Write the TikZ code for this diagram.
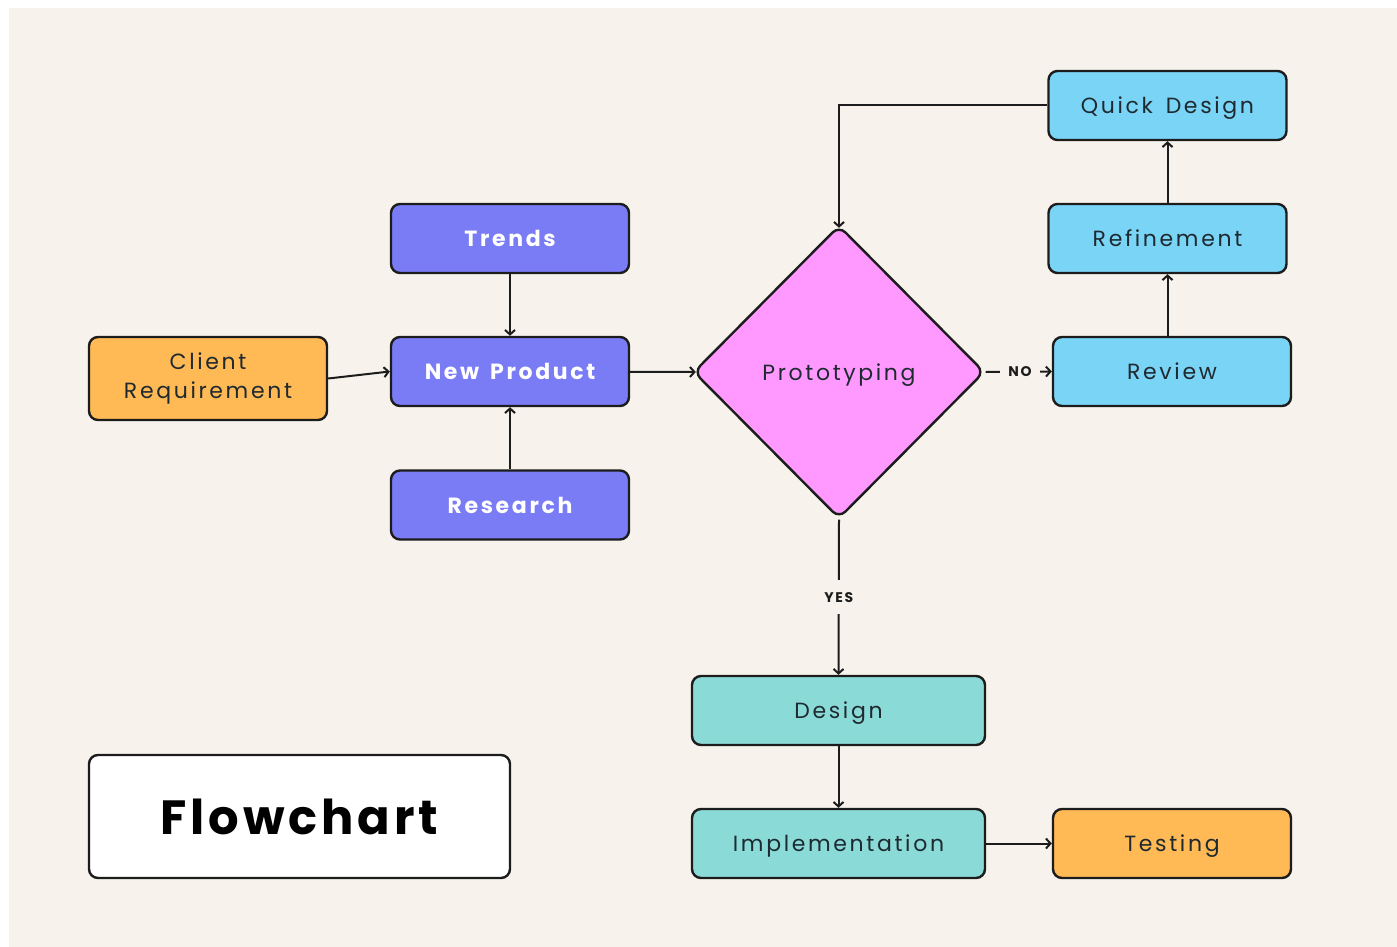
\documentclass[tikz,border=0pt]{standalone}
\usepackage{fontspec}
\setmainfont{Poppins}
\newfontfamily\labelfont[LetterSpace=12, WordSpace=1.5]{Poppins}
\newfontfamily\titlefont[LetterSpace=8]{Poppins}
\usetikzlibrary{shapes.geometric,arrows.meta}

\definecolor{canvas}{HTML}{F7F3EC}
\definecolor{edge}{HTML}{1C1C1C}
\definecolor{ink}{HTML}{1F2A30}
\definecolor{violet}{HTML}{7A7CF6}
\definecolor{amber}{HTML}{FFB955}
\definecolor{pink}{HTML}{FF99FF}
\definecolor{sky}{HTML}{7AD4F6}
\definecolor{teal}{HTML}{8ADBD8}

\tikzset{
  box/.style={draw=edge, line width=2.4pt, rounded corners=9pt,
    minimum width=238pt, minimum height=69pt, inner sep=0pt,
    font=\labelfont\fontsize{22}{29}\selectfont, text=ink, align=center},
  oneline/.style={text height=16pt, text depth=0pt},
  violetbox/.style={box, oneline, fill=violet, text=white,
    font=\labelfont\fontsize{22}{29}\selectfont\bfseries},
  amberbox/.style={box, fill=amber},
  skybox/.style={box, oneline, fill=sky},
  tealbox/.style={box, oneline, fill=teal, minimum width=293pt},
  decision/.style={diamond, aspect=1, draw=edge, line width=2.4pt, fill=pink,
    rounded corners=9pt, minimum width=291pt, minimum height=293pt, inner sep=0pt,
    text height=16pt, text depth=0pt,
    font=\labelfont\fontsize{22}{29}\selectfont, text=ink},
  link/.style={draw=edge, line width=2pt, -{Straight Barb[length=4.5pt,width=10pt,line width=2pt]}},
  tag/.style={fill=canvas, inner xsep=8pt, inner ysep=2pt, text=edge,
    font=\labelfont\fontsize{14}{16}\selectfont\bfseries},
}

\begin{document}
\begin{tikzpicture}[x=1pt, y=-1pt]
  \useasboundingbox (0,0) rectangle (1397,947);
  \fill[canvas] (9,8) rectangle (1397,947);

  % product inputs
  \node[violetbox] (trends)   at (510,238.5) {Trends};
  \node[violetbox] (product)  at (510,371.5) {New Product};
  \node[violetbox] (research) at (510,505)   {Research};
  \node[amberbox, minimum height=83pt] (client) at (208,378.5) {Client\\Requirement};

  % decision
  \node[decision] (proto) at (839,372) {Prototyping};

  % rework loop
  \node[skybox] (quick)  at (1167.5,105.5) {Quick Design};
  \node[skybox] (refine) at (1167.5,238.5) {Refinement};
  \node[skybox] (review) at (1172,371.5)   {Review};

  % delivery
  \node[tealbox] (design) at (838.5,710.5) {Design};
  \node[tealbox] (impl)   at (838.5,843.5) {Implementation};
  \node[amberbox, oneline] (test) at (1172,843.5) {Testing};

  % title
  \node[box, fill=white, minimum width=421pt, minimum height=123pt,
        font=\titlefont\fontsize{48}{56}\selectfont\bfseries, text=black] (title)
        at (299.5,816.5) {Flowchart};

  % connectors
  \draw[link] (trends) -- (product);
  \draw[link] (research) -- (product);
  \draw[link] (client.east) -- (product.west);
  \draw[link, shorten >=-3.5pt] (product) -- (proto.west);
  \draw[link] (proto.east) -- node[tag, pos=0.52] {NO} (review.west);
  \draw[link] (proto.south) -- node[tag, inner xsep=2pt, inner ysep=12pt] {YES} (design.north);
  \draw[link] (design) -- (impl);
  \draw[link] (impl) -- (test);
  \draw[link] (review.north -| refine.south) -- (refine.south);
  \draw[link] (refine) -- (quick);
  \draw[link, shorten >=-3.5pt] (quick.west) -| (proto.north);
\end{tikzpicture}
\end{document}
